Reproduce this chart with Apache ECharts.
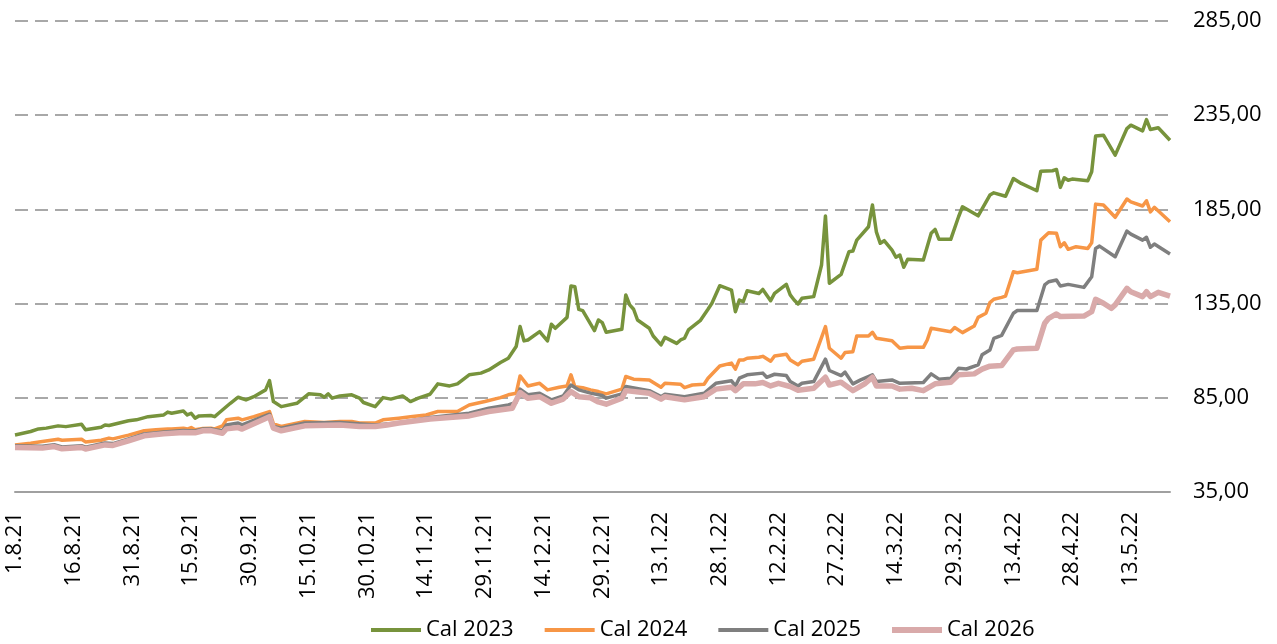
<!DOCTYPE html>
<html>
<head>
<meta charset="utf-8">
<script src="https://cdn.jsdelivr.net/npm/echarts@6/dist/echarts.min.js"></script>
<style>
  html, body { margin: 0; padding: 0; background: #fff; }
  #chart { width: 1277px; height: 644px; }
</style>
</head>
<body>
<div id="chart"></div>
<script>
// daily category axis 1.8.21 .. 23.5.22
const firstDay = new Date(2021, 7, 1);
const dayCount = 296;
const days = [];
for (let i = 0; i < dayCount; i++) {
    const d = new Date(firstDay.getFullYear(), firstDay.getMonth(), firstDay.getDate() + i);
    days.push(d.getDate() + '.' + (d.getMonth() + 1) + '.' + String(d.getFullYear()).slice(2));
}

const seriesNames = ['Cal 2023', 'Cal 2024', 'Cal 2025', 'Cal 2026'];
const yTicks = [35, 85, 135, 185, 235, 285];

const cal2023 = [
    ['1.8.21', 65.3], ['3.8.21', 66.2], ['5.8.21', 67.1], ['7.8.21', 68.5], ['9.8.21', 68.9],
    ['12.8.21', 70.1], ['14.8.21', 69.7], ['18.8.21', 71.0], ['19.8.21', 68.0], ['23.8.21', 69.4],
    ['24.8.21', 70.6], ['25.8.21', 70.3], ['30.8.21', 72.8], ['1.9.21', 73.3], ['4.9.21', 75.0],
    ['8.9.21', 75.9], ['9.9.21', 77.4], ['10.9.21', 76.8], ['13.9.21', 78.0], ['14.9.21', 75.9],
    ['15.9.21', 76.8], ['16.9.21', 74.2], ['17.9.21', 75.4], ['20.9.21', 75.6], ['21.9.21', 75.0],
    ['22.9.21', 76.8], ['25.9.21', 82.1], ['27.9.21', 85.3], ['29.9.21', 83.9], ['1.10.21', 85.6],
    ['4.10.21', 89.2], ['5.10.21', 94.1], ['6.10.21', 83.0], ['8.10.21', 80.3], ['12.10.21', 82.1],
    ['15.10.21', 87.1], ['18.10.21', 86.6], ['19.10.21', 85.3], ['20.10.21', 87.1], ['21.10.21', 84.8],
    ['23.10.21', 86.0], ['26.10.21', 86.6], ['28.10.21', 84.8], ['29.10.21', 82.5], ['1.11.21', 80.3],
    ['3.11.21', 85.1], ['5.11.21', 84.3], ['8.11.21', 86.0], ['10.11.21', 83.0], ['12.11.21', 84.8],
    ['15.11.21', 86.9], ['17.11.21', 92.4], ['20.11.21', 91.3], ['22.11.21', 92.4], ['25.11.21', 97.2],
    ['28.11.21', 98.1], ['30.11.21', 99.8], ['3.12.21', 103.7], ['5.12.21', 106.0], ['7.12.21', 112.2],
    ['8.12.21', 122.8], ['9.12.21', 115.2], ['10.12.21', 115.7], ['13.12.21', 120.1], ['15.12.21', 115.2],
    ['16.12.21', 124.0], ['17.12.21', 121.9], ['20.12.21', 127.7], ['21.12.21', 144.3], ['22.12.21', 143.9],
    ['23.12.21', 131.9], ['24.12.21', 131.3], ['27.12.21', 120.7], ['28.12.21', 126.3], ['29.12.21', 124.9],
    ['30.12.21', 119.8], ['3.1.22', 121.4], ['4.1.22', 139.6], ['5.1.22', 134.3], ['6.1.22', 132.0],
    ['7.1.22', 126.3], ['10.1.22', 121.9], ['11.1.22', 117.8], ['13.1.22', 113.1], ['14.1.22', 117.1],
    ['17.1.22', 113.9], ['18.1.22', 115.7], ['19.1.22', 116.6], ['20.1.22', 121.0], ['23.1.22', 125.9],
    ['25.1.22', 132.0], ['26.1.22', 135.2], ['28.1.22', 144.5], ['31.1.22', 142.2], ['1.2.22', 130.7],
    ['2.2.22', 136.9], ['3.2.22', 136.0], ['4.2.22', 141.8], ['7.2.22', 140.4], ['8.2.22', 142.5],
    ['10.2.22', 136.5], ['11.2.22', 140.4], ['14.2.22', 145.2], ['15.2.22', 139.6], ['16.2.22', 136.9],
    ['17.2.22', 134.8], ['18.2.22', 137.8], ['21.2.22', 138.7], ['23.2.22', 155.5], ['24.2.22', 181.5],
    ['25.2.22', 145.8], ['28.2.22', 150.5], ['2.3.22', 162.5], ['3.3.22', 162.9], ['4.3.22', 168.7],
    ['7.3.22', 175.8], ['8.3.22', 187.3], ['9.3.22', 173.1], ['10.3.22', 167.0], ['11.3.22', 168.4],
    ['13.3.22', 163.4], ['14.3.22', 159.6], ['15.3.22', 160.8], ['16.3.22', 154.3], ['17.3.22', 158.5],
    ['21.3.22', 158.1], ['23.3.22', 172.3], ['24.3.22', 174.4], ['25.3.22', 169.1], ['28.3.22', 169.1],
    ['30.3.22', 181.1], ['31.3.22', 186.4], ['4.4.22', 181.6], ['7.4.22', 192.6], ['8.4.22', 193.8],
    ['11.4.22', 192.0], ['13.4.22', 201.4], ['15.4.22', 198.8], ['19.4.22', 194.9], ['20.4.22', 205.3],
    ['23.4.22', 205.5], ['24.4.22', 206.2], ['25.4.22', 196.7], ['26.4.22', 201.8], ['27.4.22', 200.5],
    ['28.4.22', 201.1], ['2.5.22', 200.2], ['3.5.22', 205.0], ['4.5.22', 223.9], ['6.5.22', 224.4],
    ['9.5.22', 213.8], ['12.5.22', 227.9], ['13.5.22', 229.7], ['16.5.22', 226.7], ['17.5.22', 232.7],
    ['18.5.22', 227.4], ['20.5.22', 228.3], ['23.5.22', 221.7]
];

const cal2024 = [
    ['1.8.21', 60.0], ['5.8.21', 60.9], ['8.8.21', 61.8], ['12.8.21', 63.0], ['13.8.21', 62.5],
    ['18.8.21', 63.0], ['19.8.21', 61.6], ['23.8.21', 62.5], ['25.8.21', 63.6], ['26.8.21', 63.2],
    ['30.8.21', 65.2], ['3.9.21', 67.5], ['6.9.21', 68.0], ['9.9.21', 68.4], ['10.9.21', 68.4],
    ['13.9.21', 68.9], ['14.9.21', 68.4], ['15.9.21', 69.2], ['16.9.21', 68.0], ['18.9.21', 68.7],
    ['20.9.21', 68.9], ['21.9.21', 68.5], ['23.9.21', 70.1], ['24.9.21', 73.3], ['27.9.21', 74.2],
    ['28.9.21', 73.3], ['1.10.21', 75.0], ['5.10.21', 77.7], ['6.10.21', 71.2], ['8.10.21', 69.8],
    ['14.10.21', 72.4], ['19.10.21', 71.9], ['23.10.21', 72.4], ['26.10.21', 72.4], ['28.10.21', 71.6],
    ['1.11.21', 71.6], ['3.11.21', 73.3], ['7.11.21', 74.2], ['10.11.21', 75.0], ['14.11.21', 75.9],
    ['17.11.21', 77.7], ['22.11.21', 77.7], ['25.11.21', 81.2], ['29.11.21', 83.0], ['3.12.21', 85.1],
    ['5.12.21', 86.6], ['7.12.21', 87.4], ['8.12.21', 96.6], ['10.12.21', 91.3], ['13.12.21', 92.7],
    ['15.12.21', 89.2], ['18.12.21', 90.6], ['20.12.21', 91.3], ['21.12.21', 97.2], ['22.12.21', 90.9],
    ['24.12.21', 90.4], ['26.12.21', 89.2], ['28.12.21', 88.3], ['30.12.21', 87.1], ['3.1.22', 89.6],
    ['4.1.22', 96.3], ['6.1.22', 94.9], ['10.1.22', 94.5], ['13.1.22', 90.6], ['14.1.22', 92.7],
    ['18.1.22', 92.2], ['19.1.22', 90.4], ['21.1.22', 91.8], ['24.1.22', 92.2], ['25.1.22', 95.4],
    ['28.1.22', 101.9], ['31.1.22', 103.4], ['1.2.22', 100.2], ['2.2.22', 105.1], ['3.2.22', 105.0],
    ['4.2.22', 106.0], ['7.2.22', 106.5], ['8.2.22', 107.0], ['10.2.22', 104.4], ['11.2.22', 107.2],
    ['14.2.22', 108.1], ['15.2.22', 105.1], ['17.2.22', 102.5], ['18.2.22', 104.4], ['21.2.22', 105.5],
    ['24.2.22', 122.8], ['25.2.22', 111.3], ['28.2.22', 106.0], ['1.3.22', 109.0], ['3.3.22', 109.5],
    ['4.3.22', 117.8], ['7.3.22', 117.8], ['8.3.22', 119.8], ['9.3.22', 116.6], ['13.3.22', 115.3],
    ['15.3.22', 111.3], ['17.3.22', 111.8], ['21.3.22', 111.8], ['22.3.22', 115.7], ['23.3.22', 121.9],
    ['28.3.22', 120.1], ['29.3.22', 122.3], ['31.3.22', 119.6], ['3.4.22', 123.1], ['4.4.22', 127.7],
    ['6.4.22', 129.9], ['7.4.22', 135.5], ['8.4.22', 137.3], ['10.4.22', 138.3], ['11.4.22', 139.0],
    ['13.4.22', 151.9], ['14.4.22', 151.4], ['19.4.22', 153.2], ['20.4.22', 168.7], ['22.4.22', 172.6],
    ['24.4.22', 172.3], ['25.4.22', 165.2], ['26.4.22', 167.3], ['27.4.22', 163.8], ['29.4.22', 165.2],
    ['2.5.22', 164.3], ['3.5.22', 167.3], ['4.5.22', 187.8], ['6.5.22', 187.3], ['9.5.22', 180.8],
    ['12.5.22', 190.5], ['13.5.22', 189.0], ['16.5.22', 186.8], ['17.5.22', 189.6], ['18.5.22', 183.7],
    ['19.5.22', 186.1], ['23.5.22', 178.4]
];

const cal2025 = [
    ['1.8.21', 59.6], ['8.8.21', 59.3], ['11.8.21', 60.1], ['13.8.21', 58.9], ['18.8.21', 59.6],
    ['19.8.21', 58.8], ['24.8.21', 61.0], ['26.8.21', 60.7], ['30.8.21', 63.2], ['3.9.21', 65.8],
    ['8.9.21', 66.9], ['13.9.21', 67.6], ['16.9.21', 67.4], ['18.9.21', 68.5], ['20.9.21', 68.6],
    ['21.9.21', 68.1], ['23.9.21', 67.5], ['24.9.21', 70.6], ['27.9.21', 71.6], ['28.9.21', 70.6],
    ['5.10.21', 76.3], ['6.10.21', 69.8], ['8.10.21', 68.9], ['14.10.21', 71.6], ['23.10.21', 71.9],
    ['1.11.21', 70.6], ['7.11.21', 71.6], ['15.11.21', 74.5], ['25.11.21', 76.8], ['30.11.21', 79.5],
    ['5.12.21', 81.2], ['7.12.21', 82.6], ['8.12.21', 89.6], ['10.12.21', 86.6], ['13.12.21', 87.4],
    ['16.12.21', 83.9], ['19.12.21', 86.0], ['21.12.21', 91.8], ['23.12.21', 89.2], ['26.12.21', 87.5],
    ['29.12.21', 86.2], ['30.12.21', 84.8], ['3.1.22', 87.1], ['4.1.22', 91.0], ['10.1.22', 88.8],
    ['13.1.22', 85.6], ['14.1.22', 86.9], ['19.1.22', 85.6], ['24.1.22', 87.4], ['27.1.22', 92.7],
    ['31.1.22', 94.0], ['1.2.22', 91.3], ['2.2.22', 95.4], ['4.2.22', 97.2], ['8.2.22', 98.1],
    ['9.2.22', 95.9], ['11.2.22', 97.5], ['14.2.22', 96.8], ['15.2.22', 93.7], ['17.2.22', 91.3],
    ['18.2.22', 92.7], ['21.2.22', 93.6], ['24.2.22', 105.5], ['25.2.22', 99.5], ['28.2.22', 96.8],
    ['1.3.22', 98.6], ['3.3.22', 92.4], ['5.3.22', 94.5], ['8.3.22', 97.2], ['9.3.22', 93.6],
    ['13.3.22', 94.5], ['15.3.22', 92.7], ['21.3.22', 93.1], ['23.3.22', 97.7], ['25.3.22', 94.9],
    ['28.3.22', 95.4], ['30.3.22', 100.7], ['1.4.22', 100.3], ['4.4.22', 102.5], ['5.4.22', 107.8],
    ['7.4.22', 110.4], ['8.4.22', 116.5], ['10.4.22', 118.1], ['13.4.22', 129.9], ['14.4.22', 131.3],
    ['19.4.22', 131.3], ['21.4.22', 144.9], ['22.4.22', 146.6], ['24.4.22', 147.5], ['25.4.22', 144.3],
    ['27.4.22', 145.2], ['1.5.22', 143.6], ['3.5.22', 149.3], ['4.5.22', 164.3], ['5.5.22', 165.5],
    ['9.5.22', 159.9], ['12.5.22', 173.5], ['13.5.22', 171.9], ['16.5.22', 168.7], ['17.5.22', 170.2],
    ['18.5.22', 164.9], ['19.5.22', 166.6], ['23.5.22', 161.3]
];

const cal2026 = [
    ['1.8.21', 58.6], ['8.8.21', 58.3], ['11.8.21', 59.1], ['13.8.21', 57.9], ['18.8.21', 58.6],
    ['19.8.21', 57.8], ['24.8.21', 60.0], ['26.8.21', 59.7], ['30.8.21', 62.2], ['3.9.21', 64.8],
    ['8.9.21', 65.9], ['13.9.21', 66.6], ['16.9.21', 66.4], ['18.9.21', 67.5], ['20.9.21', 67.6],
    ['21.9.21', 67.1], ['23.9.21', 66.2], ['24.9.21', 68.5], ['27.9.21', 69.2], ['28.9.21', 68.4],
    ['5.10.21', 75.0], ['6.10.21', 68.9], ['8.10.21', 67.5], ['14.10.21', 70.1], ['23.10.21', 70.6],
    ['28.10.21', 69.8], ['1.11.21', 69.8], ['4.11.21', 70.6], ['7.11.21', 71.6], ['15.11.21', 73.7],
    ['25.11.21', 75.4], ['30.11.21', 77.7], ['6.12.21', 79.5], ['8.12.21', 87.8], ['10.12.21', 84.8],
    ['13.12.21', 85.6], ['16.12.21', 82.1], ['19.12.21', 84.3], ['21.12.21', 88.3], ['23.12.21', 85.6],
    ['26.12.21', 85.0], ['28.12.21', 82.8], ['30.12.21', 81.6], ['3.1.22', 84.8], ['4.1.22', 88.8],
    ['10.1.22', 87.4], ['13.1.22', 84.3], ['14.1.22', 85.6], ['19.1.22', 83.9], ['24.1.22', 85.6],
    ['27.1.22', 89.6], ['31.1.22', 90.6], ['1.2.22', 88.8], ['3.2.22', 92.4], ['6.2.22', 92.4],
    ['8.2.22', 93.1], ['10.2.22', 91.3], ['12.2.22', 92.7], ['15.2.22', 91.0], ['17.2.22', 89.0],
    ['21.2.22', 90.1], ['24.2.22', 95.9], ['25.2.22', 91.8], ['28.2.22', 93.3], ['3.3.22', 88.8],
    ['6.3.22', 92.4], ['8.3.22', 95.9], ['9.3.22', 91.3], ['13.3.22', 91.3], ['15.3.22', 89.6],
    ['18.3.22', 90.1], ['21.3.22', 88.8], ['24.3.22', 92.4], ['28.3.22', 93.3], ['30.3.22', 97.2],
    ['3.4.22', 97.7], ['5.4.22', 100.2], ['7.4.22', 101.8], ['10.4.22', 102.1], ['13.4.22', 110.4],
    ['14.4.22', 110.9], ['19.4.22', 111.3], ['21.4.22', 124.6], ['22.4.22', 127.2], ['24.4.22', 129.5],
    ['25.4.22', 128.1], ['1.5.22', 128.4], ['3.5.22', 130.7], ['4.5.22', 137.3], ['6.5.22', 135.2],
    ['8.5.22', 132.5], ['9.5.22', 134.3], ['12.5.22', 143.1], ['13.5.22', 141.3], ['16.5.22', 138.7],
    ['17.5.22', 141.3], ['18.5.22', 138.7], ['20.5.22', 141.0], ['23.5.22', 139.0]
];

const toPoints = (rows) => rows.map(([d, v]) => [days.indexOf(d), v]);

const chart = echarts.init(document.getElementById('chart'));

const labelFont = '"Open Sans", "Liberation Sans", sans-serif';

function line(name, rows, color, width) {
    return {
        name: name,
        type: 'line',
        data: toPoints(rows),
        symbol: 'none',
        smooth: false,
        lineStyle: { color: color, width: width, join: 'round' },
        itemStyle: { color: color }
    };
}

chart.setOption({
    animation: false,
    textStyle: { fontFamily: labelFont },
    grid: { left: 15, right: 107, top: 21, bottom: 152 },
    legend: {
        left: 366,
        top: 614,
        itemWidth: 50,
        itemHeight: 14,
        itemGap: 31,
        textStyle: { fontSize: 22, color: '#000', fontFamily: labelFont },
        data: [
            { name: seriesNames[0], icon: 'path://M0,0H50V4H0Z' },
            { name: seriesNames[1], icon: 'path://M0,0H50V4H0Z' },
            { name: seriesNames[2], icon: 'path://M0,0H50V4H0Z' },
            { name: seriesNames[3], icon: 'path://M0,0H50V6H0Z' }
        ]
    },
    xAxis: {
        type: 'category',
        data: days,
        boundaryGap: false,
        axisLine: { lineStyle: { color: '#a0a0a0', width: 2 } },
        axisTick: { show: false },
        axisLabel: {
            interval: 14,
            rotate: 90,
            margin: 20,
            fontSize: 22,
            color: '#000',
            fontFamily: labelFont
        },
        splitLine: { show: false }
    },
    yAxis: {
        type: 'value',
        position: 'right',
        min: yTicks[0],
        max: yTicks[yTicks.length - 1],
        interval: 50,
        axisLine: { show: false },
        axisTick: { show: false },
        axisLabel: {
            margin: 23,
            fontSize: 22,
            color: '#000',
            fontFamily: labelFont,
            formatter: (v) => v.toFixed(2).replace('.', ',')
        },
        splitLine: { lineStyle: { color: '#8c8c8c', width: 1.5, type: [13, 7] } }
    },
    series: [
        line(seriesNames[0], cal2023, '#77933C', 3.5),
        line(seriesNames[1], cal2024, '#F79646', 3.5),
        line(seriesNames[2], cal2025, '#7F7F7F', 3.5),
        line(seriesNames[3], cal2026, '#D9AAAA', 5.5)
    ]
});
</script>
</body>
</html>
